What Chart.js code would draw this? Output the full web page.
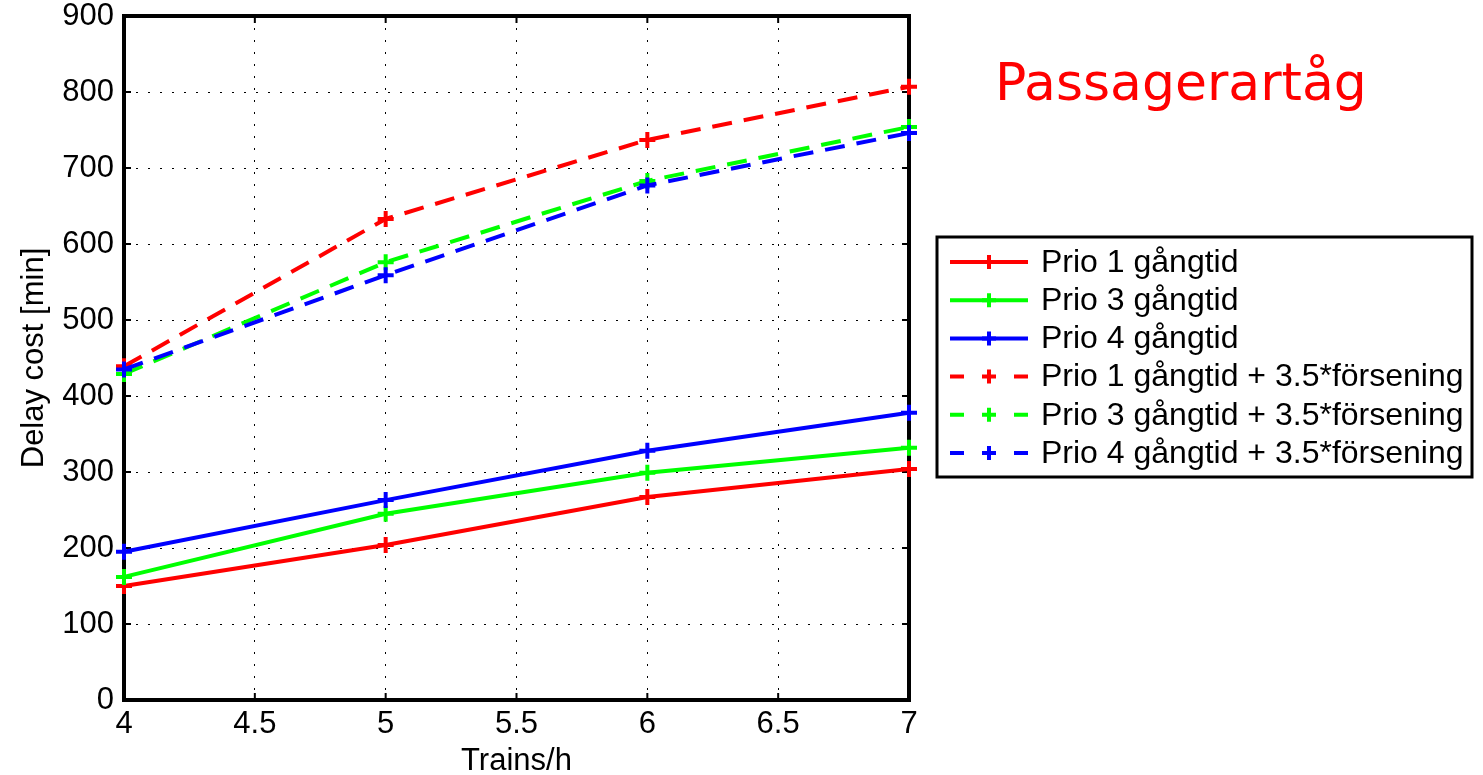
<!DOCTYPE html>
<html>
<head>
<meta charset="utf-8">
<script src="https://cdn.jsdelivr.net/npm/chart.js@4/dist/chart.umd.min.js"></script>
<style>
html,body{margin:0;padding:0;background:#fff;}
#wrap{width:1483px;height:775px;position:relative;}
</style>
</head>
<body>
<div id="wrap"><canvas id="c" width="1483" height="775"></canvas></div>
<script>
const categories = [4, 5, 6, 7];
const prio1 = [150, 204, 267, 304];
const prio3 = [162, 245, 299, 332];
const prio4 = [195, 263, 328, 378];
const prio1d = [439, 633, 737, 807];
const prio3d = [429, 576, 683, 754];
const prio4d = [435, 559, 677, 746];
const xTicks = [4, 4.5, 5, 5.5, 6, 6.5, 7];
const yTicks = [0, 100, 200, 300, 400, 500, 600, 700, 800, 900];
const labels = ['Prio 1 gångtid', 'Prio 3 gångtid', 'Prio 4 gångtid',
  'Prio 1 gångtid + 3.5*försening', 'Prio 3 gångtid + 3.5*försening', 'Prio 4 gångtid + 3.5*försening'];
const colors = ['#ff0000', '#00ff00', '#0000ff', '#ff0000', '#00ff00', '#0000ff'];
const series = [prio1, prio3, prio4, prio1d, prio3d, prio4d];
const dashed = [false, false, false, true, true, true];
const titleText = 'Passagerartåg';

const FONT = '"Liberation Sans", Arial, sans-serif';
const FS = 31;
const LFS = 32;
const DASH = [20, 12];

const datasets = series.map((s, i) => ({
  label: labels[i],
  data: categories.map((x, j) => ({x: x, y: s[j]})),
  borderColor: colors[i],
  backgroundColor: colors[i],
  borderWidth: 4,
  borderDash: dashed[i] ? DASH : [],
  pointStyle: 'cross',
  pointRadius: 8,
  pointHoverRadius: 8,
  pointBorderWidth: 4,
  pointBorderColor: colors[i],
  fill: false,
  tension: 0,
  clip: false,
  order: series.length - i
}));

const decor = {
  id: 'decor',
  beforeDatasetsDraw(chart) {
    const ctx = chart.ctx;
    const a = chart.chartArea;
    const xs = chart.scales.x, ys = chart.scales.y;
    ctx.save();
    ctx.strokeStyle = '#000';
    ctx.lineWidth = 2;
    ctx.setLineDash([]);
    const tl = 7;
    xTicks.forEach(v => {
      const px = xs.getPixelForValue(v);
      ctx.beginPath();
      ctx.moveTo(px, a.bottom); ctx.lineTo(px, a.bottom - tl);
      ctx.moveTo(px, a.top); ctx.lineTo(px, a.top + tl);
      ctx.stroke();
    });
    yTicks.forEach(v => {
      const py = ys.getPixelForValue(v);
      ctx.beginPath();
      ctx.moveTo(a.left, py); ctx.lineTo(a.left + tl, py);
      ctx.moveTo(a.right, py); ctx.lineTo(a.right - tl, py);
      ctx.stroke();
    });
    ctx.lineWidth = 4;
    ctx.strokeRect(a.left, a.top, a.right - a.left, a.bottom - a.top);
    ctx.restore();
  }
};

const overlay = {
  id: 'overlay',
  afterDraw(chart) {
    const ctx = chart.ctx;
    ctx.save();
    ctx.fillStyle = '#ff0000';
    ctx.font = '52px "DejaVu Sans", sans-serif';
    ctx.textBaseline = 'alphabetic';
    ctx.textAlign = 'left';
    ctx.fillText(titleText, 995, 100);
    const bx = 937, by = 237, bw = 535, bh = 240;
    ctx.fillStyle = '#fff';
    ctx.fillRect(bx, by, bw, bh);
    ctx.strokeStyle = '#000';
    ctx.lineWidth = 3;
    ctx.strokeRect(bx, by, bw, bh);
    const rowY0 = 262, rowStep = 38.2;
    chart.data.datasets.forEach((ds, i) => {
      const y = rowY0 + i * rowStep;
      ctx.strokeStyle = ds.borderColor;
      ctx.lineWidth = 4;
      ctx.beginPath();
      if (dashed[i]) {
        ctx.moveTo(950, y); ctx.lineTo(964, y);
        ctx.moveTo(1014, y); ctx.lineTo(1028, y);
      } else {
        ctx.moveTo(950, y); ctx.lineTo(1028, y);
      }
      ctx.stroke();
      ctx.beginPath();
      ctx.moveTo(982, y); ctx.lineTo(996, y);
      ctx.moveTo(989, y - 7); ctx.lineTo(989, y + 7);
      ctx.stroke();
      ctx.fillStyle = '#000';
      ctx.font = LFS + 'px ' + FONT;
      ctx.textBaseline = 'middle';
      ctx.fillText(ds.label, 1041, y + 1);
    });
    ctx.restore();
  }
};

new Chart(document.getElementById('c'), {
  type: 'line',
  data: { datasets: datasets },
  options: {
    responsive: false,
    animation: false,
    events: [],
    layout: { padding: { left: 0, top: 16, right: 574, bottom: 0 } },
    plugins: { legend: { display: false }, tooltip: { enabled: false } },
    scales: {
      x: {
        type: 'linear',
        min: 4, max: 7,
        afterBuildTicks: s => { s.ticks = xTicks.map(v => ({value: v})); },
        afterFit: s => { s.height = 75; s.paddingLeft = 0; s.paddingRight = 0; },
        ticks: { color: '#000', font: { family: FONT, size: FS }, padding: 6, maxRotation: 0,
          callback: v => String(v) },
        grid: { color: '#000', lineWidth: 1, drawTicks: false },
        border: { display: false, dash: [2, 10] },
        title: { display: true, text: 'Trains/h', color: '#000', font: { family: FONT, size: FS }, padding: { top: 0, bottom: -5 } }
      },
      y: {
        type: 'linear',
        min: 0, max: 900,
        afterBuildTicks: s => { s.ticks = yTicks.map(v => ({value: v})); },
        afterFit: s => { s.width = 124; s.paddingTop = 0; s.paddingBottom = 0; },
        ticks: { color: '#000', font: { family: FONT, size: FS }, padding: 10 },
        grid: { color: '#000', lineWidth: 1, drawTicks: false },
        border: { display: false, dash: [2, 10] },
        title: { display: true, text: 'Delay cost [min]', color: '#000', font: { family: FONT, size: FS }, padding: { top: 16, bottom: 0 } }
      }
    }
  },
  plugins: [decor, overlay]
});
</script>
</body>
</html>
